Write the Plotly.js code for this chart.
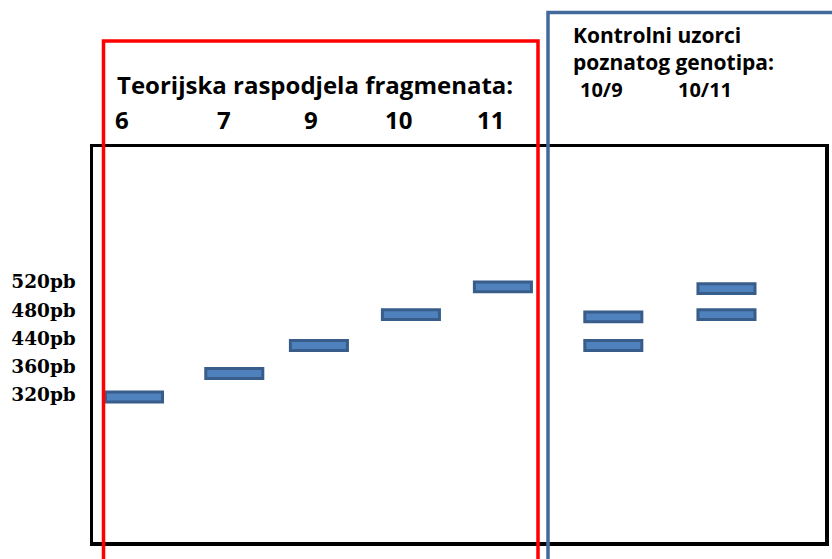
<!DOCTYPE html>
<html>
<head>
<meta charset="utf-8">
<script src="https://cdn.plot.ly/plotly-3.0.1.min.js"></script>
<style>html,body{margin:0;padding:0;background:#fff;}#chart{width:832px;height:559px;}</style>
</head>
<body>
<div id="chart"></div>
<script>
// Lanes (allele / genotype) and their positions along the gel
const lanes = ['6', '7', '9', '10', '11', '10/9', '10/11'];
const laneX = [1, 2.09, 3.01, 4.01, 5.01, 6.21, 7.44];

// Bands: which lane, and migration position on the ladder scale
const bandLane = ['6', '7', '9', '10', '11', '10/9', '10/9', '10/11', '10/11'];
const bandPos = [0.93, 1.76, 2.75, 3.84, 4.82, 3.76, 2.75, 4.76, 3.84];

// Ladder (size marker) tick labels
const ladderPos = [1, 2, 3, 4, 5];
const ladderLabels = ['320pb', '360pb', '440pb', '480pb', '520pb'];

// Header texts
const theoryTitle = 'Teorijska raspodjela fragmenata:';
const controlTitle = ['Kontrolni uzorci', 'poznatog genotipa:'];

const bandH = 0.35;
const bandW = 0.62;

const xs = bandLane.map(l => laneX[lanes.indexOf(l)]);
const bases = bandPos.map(p => p - bandH / 2);

const trace = {
  type: 'bar',
  x: xs,
  y: bandPos.map(() => bandH),
  base: bases,
  width: bandW,
  marker: {color: '#4f81bd', line: {color: '#385d8a', width: 3}},
  hoverinfo: 'skip',
  showlegend: false
};

const W = 732, H = 395, L = 93, T = 147;
const px = v => (v - L) / W;
const py = v => (T + H - v) / H;

const labelShift = [-12, -10.5, -7.5, -12, -12, -12, -21];
const annotations = [];
const hdrFont = {family: '"Open Sans", Lato, sans-serif', size: 24, color: '#000', weight: 'bold'};
annotations.push({xref: 'paper', yref: 'paper', x: px(115), y: py(84), xanchor: 'left', yanchor: 'middle',
  text: '<b>' + theoryTitle + '</b>', showarrow: false, font: hdrFont});
for (let i = 0; i < 5; i++) {
  annotations.push({xref: 'x', yref: 'paper', x: laneX[i], xshift: labelShift[i], y: py(119), xanchor: 'center', yanchor: 'middle',
    text: '<b>' + lanes[i] + '</b>', showarrow: false, font: hdrFont});
}
const ctlFont = {family: '"Open Sans", Lato, sans-serif', size: 21, color: '#000', weight: 'bold'};
annotations.push({xref: 'paper', yref: 'paper', x: px(571), y: py(48), xanchor: 'left', yanchor: 'middle', align: 'left',
  text: controlTitle.map(t => '<b>' + t + '</b>').join('<br>'), showarrow: false, font: ctlFont});
const ctlLabelFont = {family: '"Open Sans", Lato, sans-serif', size: 20, color: '#000', weight: 'bold'};
for (let i = 5; i < 7; i++) {
  annotations.push({xref: 'x', yref: 'paper', x: laneX[i], xshift: labelShift[i], y: py(89), xanchor: 'center', yanchor: 'middle',
    text: '<b>' + lanes[i] + '</b>', showarrow: false, font: ctlLabelFont});
}

const layout = {
  width: 832, height: 559,
  margin: {l: L, r: 832 - L - W, t: T, b: 559 - T - H, pad: 0},
  paper_bgcolor: '#fff', plot_bgcolor: '#fff',
  barmode: 'overlay',
  showlegend: false,
  xaxis: {range: [1 + (93 - 134) / 92, 1 + (825 - 134) / 92], showgrid: false, zeroline: false,
    showticklabels: false, ticks: '', showline: true, mirror: true, linecolor: '#000', linewidth: 3.5, fixedrange: true},
  yaxis: {range: [1 - (542 - 395) / 28.3, 1 + (395 - 147) / 28.3], showgrid: false, zeroline: false,
    tickmode: 'array', tickvals: ladderPos, ticktext: ladderLabels.map(t => '<b>' + t + '</b>'), ticks: '',
    ticklabelstandoff: 10,
    tickfont: {family: '"DejaVu Serif", serif', size: 18.5, color: '#000'},
    showline: true, mirror: true, linecolor: '#000', linewidth: 3.5, fixedrange: true},
  shapes: [
    {type: 'rect', xref: 'paper', yref: 'paper', x0: px(103.5), x1: px(538), y0: py(620), y1: py(41),
      line: {color: '#ff0000', width: 3.5}, fillcolor: 'rgba(0,0,0,0)', layer: 'above'},
    {type: 'rect', xref: 'paper', yref: 'paper', x0: px(548), x1: px(900), y0: py(620), y1: py(12.5),
      line: {color: '#44699b', width: 3.5}, fillcolor: 'rgba(0,0,0,0)', layer: 'above'}
  ],
  annotations: annotations
};

Plotly.newPlot('chart', [trace], layout, {displayModeBar: false, staticPlot: true});
</script>
</body>
</html>
